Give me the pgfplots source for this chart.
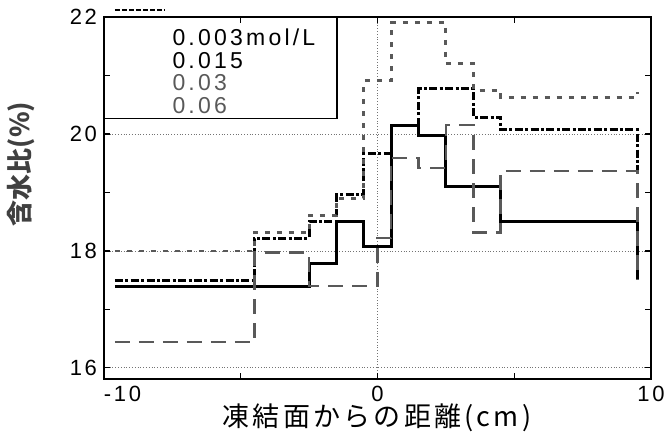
\documentclass[border=0pt]{standalone}
\usepackage{pgfplots}
\pgfplotsset{compat=1.18}
\usepackage{fontspec}
\setmainfont{Liberation Sans}
\newfontfamily\spaced[LetterSpace=12]{Liberation Sans}
\newfontfamily\legfont[LetterSpace=14]{Liberation Sans}
\newfontfamily\cjk{Noto Sans CJK JP}
\newfontfamily\cjkspaced[LetterSpace=12]{Noto Sans CJK JP}
\definecolor{sgray}{HTML}{595959}
\begin{document}
\begin{tikzpicture}
\path[use as bounding box] (-52pt,-30pt) rectangle (282pt,189.5pt);
\begin{axis}[
  scale only axis, width=273.5pt, height=181pt,
  xmin=-10, xmax=10, ymin=15.81, ymax=22,
  clip=false,
  xtick={-10,0,10}, xticklabels={\makebox[0pt][l]{-10},0,10},
  minor xtick={-5,5},
  ytick={16,18,20,22}, yticklabels={16,18,20,22},
  minor ytick={17,19,21},
  tick align=inside, major tick length=3pt, minor tick length=3pt,
  xmajorgrids, ymajorgrids,
  grid style={densely dotted, black!55, line width=0.4pt},
  axis line style={line width=0.6pt},
  tick style={black, line width=0.6pt},
  ticklabel style={font=\spaced\fontsize{11}{13}\selectfont},
  xlabel={\cjkspaced\fontsize{13.5}{15}\selectfont 凍結面からの距離(cm)},
  xlabel style={at={(rel axis cs:0.499,-0.108)}, anchor=center},
  ylabel={\cjk\bfseries\fontsize{13}{15}\selectfont 含水比(\%)},
  ylabel style={at={(rel axis cs:-0.152,0.594)}, anchor=center, text=black!75},
]
% black solid
\addplot[black, line width=1.5pt, line join=miter] coordinates {
(-9.6,17.40) (-2.5,17.40) (-2.5,17.78) (-1.5,17.78) (-1.5,18.50) (-0.5,18.50)
(-0.5,18.07) (0.5,18.07) (0.5,20.15) (1.5,20.15) (1.5,19.97) (2.5,19.97)
(2.5,19.11) (4.5,19.11) (4.5,18.50) (9.5,18.50) (9.5,17.5)};
% black dash-dot
\addplot[black, line width=1.5pt, dash pattern=on 4pt off 1.2pt on 1.5pt off 1.2pt] coordinates {
(-9.6,17.50) (-4.5,17.50) (-4.5,18.22) (-2.5,18.22) (-2.5,18.51) (-1.5,18.51)
(-1.5,18.96) (-0.5,18.96) (-0.5,19.66) (0.5,19.66) (0.5,20.15) (1.5,20.15)
(1.5,20.77) (3.5,20.77) (3.5,20.29) (4.5,20.29) (4.5,20.07) (9.5,20.07) (9.5,19.35)};
% gray dotted
\addplot[sgray, line width=1.4pt, dash pattern=on 2.5pt off 3.5pt] coordinates {
(-9.6,18.0) (-4.5,18.0) (-4.5,18.31) (-2.5,18.31) (-2.5,18.6) (-1.5,18.6)
(-1.5,18.89) (-0.5,18.89) (-0.5,20.91) (0.5,20.91) (0.5,21.9) (2.5,21.9)
(2.5,21.2) (3.5,21.2) (3.5,20.75) (4.5,20.75) (4.5,20.63) (9.5,20.63) (9.5,20.72)};
% gray dashed
\addplot[sgray, line width=1.3pt, dash pattern=on 7.5pt off 4.5pt] coordinates {
(-9.6,16.44) (-4.5,16.44) (-4.5,17.97) (-2.5,17.97) (-2.5,17.40) (0,17.40)
(0,18.22) (0.5,18.22) (0.5,19.59) (1.5,19.59) (1.5,19.42) (2.5,19.42)
(2.5,20.15) (3.5,20.15) (3.5,18.31) (4.5,18.31) (4.5,19.37) (9.5,19.37) (9.5,17.5)};
% legend box
\draw[line width=0.6pt] (rel axis cs:0,1) rectangle (axis cs:-1.48,20.27);
\node[anchor=west, align=left, inner sep=0pt, font=\legfont\fontsize{11.5}{11.25}\selectfont]
  at (axis cs:-7.51,21.07) {0.003mol/L\\0.015\\\textcolor{sgray}{0.03}\\\textcolor{sgray}{0.06}};
\draw[black, line width=1pt, dash pattern=on 2.5pt off 1pt] (axis cs:-9.6,22.12) -- (axis cs:-7.8,22.12);
\end{axis}
\end{tikzpicture}
\end{document}
